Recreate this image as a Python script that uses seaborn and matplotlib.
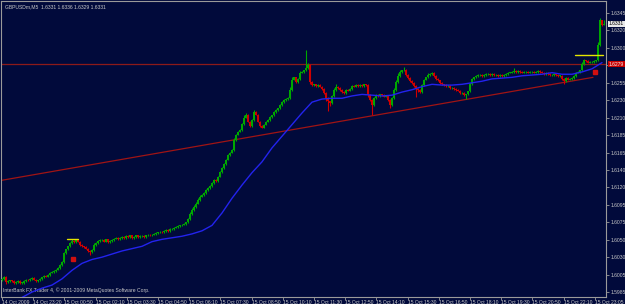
import matplotlib
matplotlib.use("Agg")
import matplotlib.pyplot as plt
import seaborn as sns

# GBPUSDm M5, closes in pips above 1.6000
close_pips = [
    2, 5, -2, -1, 0, -1, -3, -2, -1, -3,
    -3, -1, 1, 0, 2, 3, 1, -1, 0, 2,
    4, 6, 5, 7, 10, 11, 12, 14, 16, 20,
    24, 35, 40, 44, 48, 51, 49, 52, 50, 46,
    44, 43, 41, 38, 37, 39, 46, 48, 51, 52,
    52, 50, 53, 49, 51, 52, 54, 55, 53, 55,
    56, 55, 57, 56, 58, 55, 56, 58, 56, 57,
    57, 56, 58, 59, 58, 59, 60, 61, 62, 63,
    62, 64, 65, 64, 66, 66, 68, 69, 70, 71,
    72, 73, 75, 79, 86, 91, 95, 99, 104, 108,
    110, 113, 117, 119, 122, 126, 130, 128, 134, 140,
    145, 150, 156, 162, 165, 168, 181, 188, 192, 194,
    202, 210, 214, 205, 199, 207, 217, 214, 205, 199,
    197, 201, 205, 207, 211, 213, 217, 220, 222, 226,
    230, 233, 234, 235, 246, 259, 262, 256, 260, 268,
    269, 271, 274, 278, 256, 252, 253, 251, 252, 250,
    247, 242, 235, 231, 229, 238, 246, 250, 248, 246,
    243, 242, 246, 245, 247, 251, 250, 252, 251, 252,
    251, 253, 252, 239, 233, 226, 235, 239, 238, 240,
    239, 237, 238, 233, 226, 235, 246, 256, 264, 269,
    271, 272, 265, 261, 257, 255, 251, 247, 246, 243,
    252, 259, 262, 265, 266, 268, 264, 260, 258, 255,
    253, 252, 251, 251, 248, 248, 247, 246, 245, 242,
    242, 239, 240, 244, 253, 260, 262, 264, 265, 265,
    264, 265, 266, 266, 265, 266, 265, 265, 264, 265,
    264, 265, 266, 268, 268, 269, 270, 269, 270, 269,
    268, 269, 269, 268, 269, 269, 268, 269, 270, 269,
    268, 266, 268, 266, 265, 265, 266, 265, 264, 264,
    260, 257, 261, 259, 260, 261, 264, 268, 269, 271,
    279, 284, 283, 281, 282, 282, 283, 284, 304, 336,
    329, 331,
]
open_first = 0
open_last = 329

wick_up = [
    1, 1, 1, 1, 1, 1, 1, 1, 1, 1,
    1, 1, 1, 1, 1, 1, 1, 1, 1, 1,
    1, 1, 1, 1, 1, 1, 1, 1, 1, 1,
    1, 2, 1, 1, 1, 2, 1, 1, 1, 1,
    1, 1, 1, 1, 1, 1, 2, 1, 1, 1,
    1, 1, 1, 1, 1, 1, 1, 1, 1, 1,
    1, 1, 1, 1, 1, 1, 1, 1, 1, 1,
    1, 1, 1, 1, 1, 1, 1, 1, 1, 1,
    1, 1, 1, 1, 1, 1, 1, 1, 1, 1,
    1, 1, 1, 1, 2, 2, 2, 2, 2, 2,
    1, 1, 1, 1, 1, 1, 1, 1, 1, 1,
    1, 1, 1, 1, 1, 1, 3, 1, 1, 1,
    1, 3, 2, 1, 1, 1, 3, 1, 1, 1,
    1, 1, 1, 1, 1, 1, 1, 1, 1, 1,
    1, 1, 1, 1, 3, 3, 1, 1, 1, 2,
    1, 1, 23, 3, 1, 1, 1, 1, 1, 1,
    1, 1, 1, 1, 1, 1, 2, 3, 1, 1,
    1, 1, 1, 1, 1, 1, 1, 1, 1, 1,
    1, 1, 1, 1, 1, 1, 1, 1, 1, 1,
    1, 1, 1, 1, 1, 1, 2, 3, 3, 2,
    1, 3, 1, 1, 1, 1, 1, 1, 1, 1,
    1, 1, 1, 2, 1, 1, 1, 1, 1, 1,
    1, 1, 1, 1, 1, 1, 1, 1, 1, 1,
    1, 1, 1, 1, 2, 1, 1, 1, 1, 1,
    1, 1, 1, 1, 1, 1, 1, 1, 1, 1,
    1, 1, 1, 1, 1, 1, 4, 1, 1, 1,
    1, 1, 1, 1, 1, 1, 1, 1, 1, 1,
    1, 1, 1, 1, 1, 1, 1, 1, 1, 1,
    1, 1, 1, 1, 1, 1, 1, 1, 1, 1,
    3, 2, 1, 1, 1, 1, 1, 1, 3, 3,
    0, 5,
]

wick_dn = [
    1, 1, 2, 1, 1, 1, 1, 1, 1, 2,
    1, 1, 1, 1, 1, 1, 1, 1, 1, 1,
    1, 1, 1, 1, 1, 1, 1, 1, 1, 1,
    1, 1, 1, 1, 1, 1, 1, 1, 1, 1,
    1, 1, 1, 1, 4, 1, 1, 1, 1, 1,
    1, 1, 1, 1, 1, 1, 1, 1, 1, 1,
    1, 1, 1, 1, 1, 1, 1, 1, 1, 1,
    1, 1, 1, 1, 1, 1, 1, 1, 1, 1,
    1, 1, 1, 1, 1, 1, 1, 1, 1, 1,
    1, 1, 1, 1, 1, 1, 1, 1, 1, 1,
    1, 1, 1, 1, 1, 1, 1, 1, 1, 1,
    1, 1, 1, 1, 1, 1, 1, 1, 1, 1,
    1, 1, 1, 1, 1, 1, 1, 1, 1, 1,
    1, 1, 1, 1, 1, 1, 1, 1, 1, 1,
    1, 1, 1, 1, 1, 1, 1, 1, 1, 1,
    1, 1, 1, 1, 3, 1, 1, 1, 1, 1,
    1, 1, 3, 13, 4, 1, 1, 1, 1, 1,
    1, 1, 1, 1, 1, 1, 1, 1, 1, 1,
    1, 1, 1, 3, 1, 13, 1, 1, 1, 1,
    1, 1, 1, 1, 4, 1, 1, 1, 1, 1,
    1, 1, 1, 1, 1, 1, 1, 10, 3, 1,
    1, 1, 1, 1, 1, 1, 1, 1, 1, 1,
    1, 1, 1, 1, 1, 1, 1, 1, 1, 1,
    1, 1, 5, 1, 1, 1, 1, 1, 1, 1,
    1, 1, 1, 1, 1, 1, 1, 1, 1, 1,
    1, 1, 1, 1, 1, 1, 1, 1, 1, 1,
    1, 1, 1, 1, 1, 1, 1, 1, 1, 1,
    1, 1, 1, 1, 1, 1, 1, 1, 1, 1,
    1, 3, 1, 1, 1, 1, 1, 1, 1, 1,
    1, 1, 1, 1, 1, 1, 1, 1, 1, 1,
    1, 0,
]

# moving average read every 5 bars
ma_bars = [0, 5, 10, 15, 20, 25, 30, 35, 40, 45, 50, 55, 60, 65, 70, 75, 80, 85, 90, 95,
           100, 105, 110, 115, 120, 125, 130, 135, 140, 145, 150, 155, 160, 165, 170, 175,
           180, 185, 190, 195, 200, 205, 210, 215, 220, 225, 230, 235, 240, 245, 250, 255,
           260, 265, 270, 275, 280, 285, 290, 295, 300]
ma_pips = [-40, -30, -22, -15, -10, -6, 2, 13, 22, 27, 30, 34, 38, 41, 44, 50, 53, 55, 57, 60,
           64, 71, 87, 106, 123, 139, 153, 171, 186, 201, 216, 230, 234, 235, 235, 238,
           240, 239, 238, 239, 243, 246, 250, 253, 252, 252, 253, 255, 257, 260, 261, 262,
           264, 265, 266, 268, 266, 266, 269, 273, 281]

# chart objects
trend_bars = [-0.5, 295.5]
trend_price = [1.6129, 1.6262]
hline_price = 1.6279
yellow_lines = [(32.5, 38.0, 1.6053), (286.5, 300.5, 1.6291)]
arrow_marks = [(35.5, 1.6027), (296.5, 1.6269)]

price_ticks = [1.6345, 1.63225, 1.6300, 1.62775, 1.6255, 1.62325, 1.6210, 1.61875, 1.6165,
               1.61425, 1.6120, 1.60975, 1.6075, 1.60525, 1.6030, 1.60075, 1.5985]
# the 1.6275 label sits under the red line box, so it is not shown
price_labels = ["1.6345", "1.6320", "1.6300", "", "1.6255", "1.6230", "1.6210", "1.6185",
                "1.6165", "1.6140", "1.6120", "1.6095", "1.6075", "1.6050", "1.6030", "1.6005",
                "1.5985"]
time_labels = ["14 Oct 2009", "14 Oct 23:20", "15 Oct 00:50", "15 Oct 02:10", "15 Oct 03:30",
               "15 Oct 04:50", "15 Oct 06:10", "15 Oct 07:30", "15 Oct 08:50", "15 Oct 10:10",
               "15 Oct 11:30", "15 Oct 12:50", "15 Oct 14:10", "15 Oct 15:30", "15 Oct 16:50",
               "15 Oct 18:10", "15 Oct 19:30", "15 Oct 20:50", "15 Oct 22:10", "15 Oct 23:05"]
title_txt = "GBPUSDm,M5  1.6331 1.6336 1.6329 1.6331"
copy_txt = "InterBank FX Trader 4, \u00a9 2001-2009 MetaQuotes Software Corp."

bg = "#010a3b"
fg = "#c8c8c8"
bull = "#00a800"
bear = "#d00000"
fs = 3.6

sns.set_theme(style="dark", rc={"axes.facecolor": bg, "figure.facecolor": bg})
plt.rcParams["font.family"] = ["Liberation Sans", "DejaVu Sans"]

pip = 0.0001
n = len(close_pips)
closes = [1.6 + c * pip for c in close_pips]
opens = [1.6 + open_first * pip] + closes[:-1]
opens[-1] = 1.6 + open_last * pip
idx = list(range(n))

fig = plt.figure(figsize=(6.25, 3.04), dpi=100)
ax = fig.add_axes([1 / 625, 7 / 304, 605 / 625, 296 / 304])

# candles
for i in idx:
    o, c = opens[i], closes[i]
    col = bull if c >= o else bear
    lo_b, hi_b = min(o, c), max(o, c)
    ax.vlines(i, lo_b - wick_dn[i] * pip, hi_b + wick_up[i] * pip, color=col, lw=0.8, zorder=3)
    ax.bar(i, max(hi_b - lo_b, 0.4 * pip), bottom=lo_b, width=0.8, color=col, lw=0, zorder=3)

# moving average
sns.lineplot(x=ma_bars, y=[1.6 + m * pip for m in ma_pips], ax=ax, color="#2323ee", lw=1.0, zorder=4)

# trend line, horizontal line, marks
ax.plot(trend_bars, trend_price, color="#a01414", lw=0.9, zorder=2)
ax.axhline(hline_price, color="#8c1a1a", lw=0.9, zorder=2)
for x0, x1, yv in yellow_lines:
    ax.plot([x0, x1], [yv, yv], color="#e6e600", lw=1.0, zorder=5)
for xv, yv in arrow_marks:
    ax.plot(xv, yv, marker="s", ms=2.5, color="#d01010", zorder=5)

ax.set_xlim(-0.5, 302)
ax.set_ylim(1.6 - 21.4 * pip, 1.6 + 360.5 * pip)

# axes styling
for side in ["left", "top", "right", "bottom"]:
    ax.spines[side].set_color("#9a9a9a")
    ax.spines[side].set_linewidth(0.8)
ax.yaxis.tick_right()
ax.set_yticks(price_ticks)
ax.set_yticklabels(price_labels)
ax.set_xticks([k * 15.6 for k in range(len(time_labels))])
ax.set_xticklabels(time_labels, ha="left")
ax.tick_params(axis="y", colors="#9a9a9a", labelcolor=fg, labelsize=fs, length=2, width=0.6, pad=1, right=True)
ax.tick_params(axis="x", colors="#9a9a9a", labelcolor=fg, labelsize=fs, length=2, width=0.6, pad=0.3, bottom=True)
ax.grid(False)
ax.set_xlabel("")
ax.set_ylabel("")

# price boxes on the scale
ax.annotate("1.6331", xy=(1.0, 1.6331), xycoords=("axes fraction", "data"), xytext=(2.2, 0),
            textcoords="offset points", va="center", ha="left", fontsize=fs, color="black",
            bbox=dict(boxstyle="square,pad=0.15", fc="#e8e8e8", ec="none"), annotation_clip=False)
ax.annotate("1.6279", xy=(1.0, hline_price), xycoords=("axes fraction", "data"), xytext=(2.2, 0),
            textcoords="offset points", va="center", ha="left", fontsize=fs, color="#f0f0f0",
            bbox=dict(boxstyle="square,pad=0.15", fc="#c80000", ec="none"), annotation_clip=False)

ax.text(0.007, 0.988, title_txt, transform=ax.transAxes, va="top", ha="left", fontsize=fs, color=fg)
ax.text(0.004, 0.014, copy_txt, transform=ax.transAxes, va="bottom", ha="left", fontsize=fs, color=fg)

fig.savefig("out.png", dpi=100, facecolor=bg)
